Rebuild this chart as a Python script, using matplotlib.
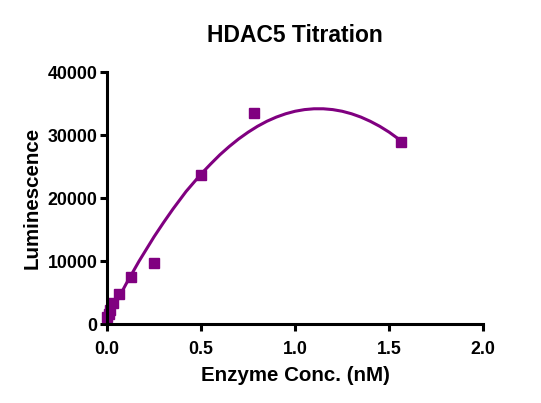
import numpy as np
import matplotlib.pyplot as plt

# Data
conc = [1.5625, 0.78, 0.5, 0.25, 0.125, 0.0625, 0.03125, 0.0156, 0.0078, 0.0]
lum = [28900, 33500, 23700, 9700, 7400, 4700, 3300, 2200, 1600, 1100]

# Fitted curve
fit_x = [0.0, 0.05, 0.1, 0.17, 0.25, 0.3, 0.35, 0.42, 0.5, 0.55, 0.6, 0.65,
         0.7, 0.75, 0.8, 0.85, 0.9, 0.95, 1.0, 1.05, 1.1, 1.15, 1.2, 1.25,
         1.3, 1.35, 1.4, 1.45, 1.5, 1.5625]
fit_y = [600, 3520, 6310, 9990, 13870, 16110, 18250, 21050, 23830, 25390,
         26880, 28200, 29400, 30460, 31400, 32200, 32860, 33390, 33790,
         34050, 34180, 34180, 34050, 33790, 33390, 32860, 32190, 31400,
         30470, 29120]

xticks = [0.0, 0.5, 1.0, 1.5, 2.0]
yticks = [0, 10000, 20000, 30000, 40000]

plt.rc('font', family=['Liberation Sans', 'DejaVu Sans'], weight='bold')

color = '#800080'

fig = plt.figure(figsize=(5.41, 4.03), dpi=100)
ax = fig.add_axes([0.198, 0.196, 0.695, 0.625])

ax.plot(fit_x, fit_y, '-', color=color, lw=2.2, clip_on=False)
ax.plot(conc, lum, 's', color=color, markersize=7.5, clip_on=False)

ax.set_xlim(0, 2.0)
ax.set_ylim(0, 40000)
ax.set_xticks(xticks)
ax.set_xticklabels([f'{t:.1f}' for t in xticks])
ax.set_yticks(yticks)
ax.set_yticklabels([str(t) for t in yticks])

for side in ['top', 'right']:
    ax.spines[side].set_visible(False)
for side in ['left', 'bottom']:
    ax.spines[side].set_linewidth(2.2)
ax.tick_params(width=2.2, length=5, labelsize=12.8)
ax.tick_params(axis='y', pad=2)
ax.tick_params(axis='x', pad=7)

ax.set_title('HDAC5 Titration', fontsize=16.5, fontweight='bold', pad=22)
ax.set_xlabel('Enzyme Conc. (nM)', fontsize=14.8, fontweight='bold', labelpad=6)
ax.set_ylabel('Luminescence', fontsize=14.8, fontweight='bold', labelpad=4)

plt.savefig('out.png', dpi=100)
